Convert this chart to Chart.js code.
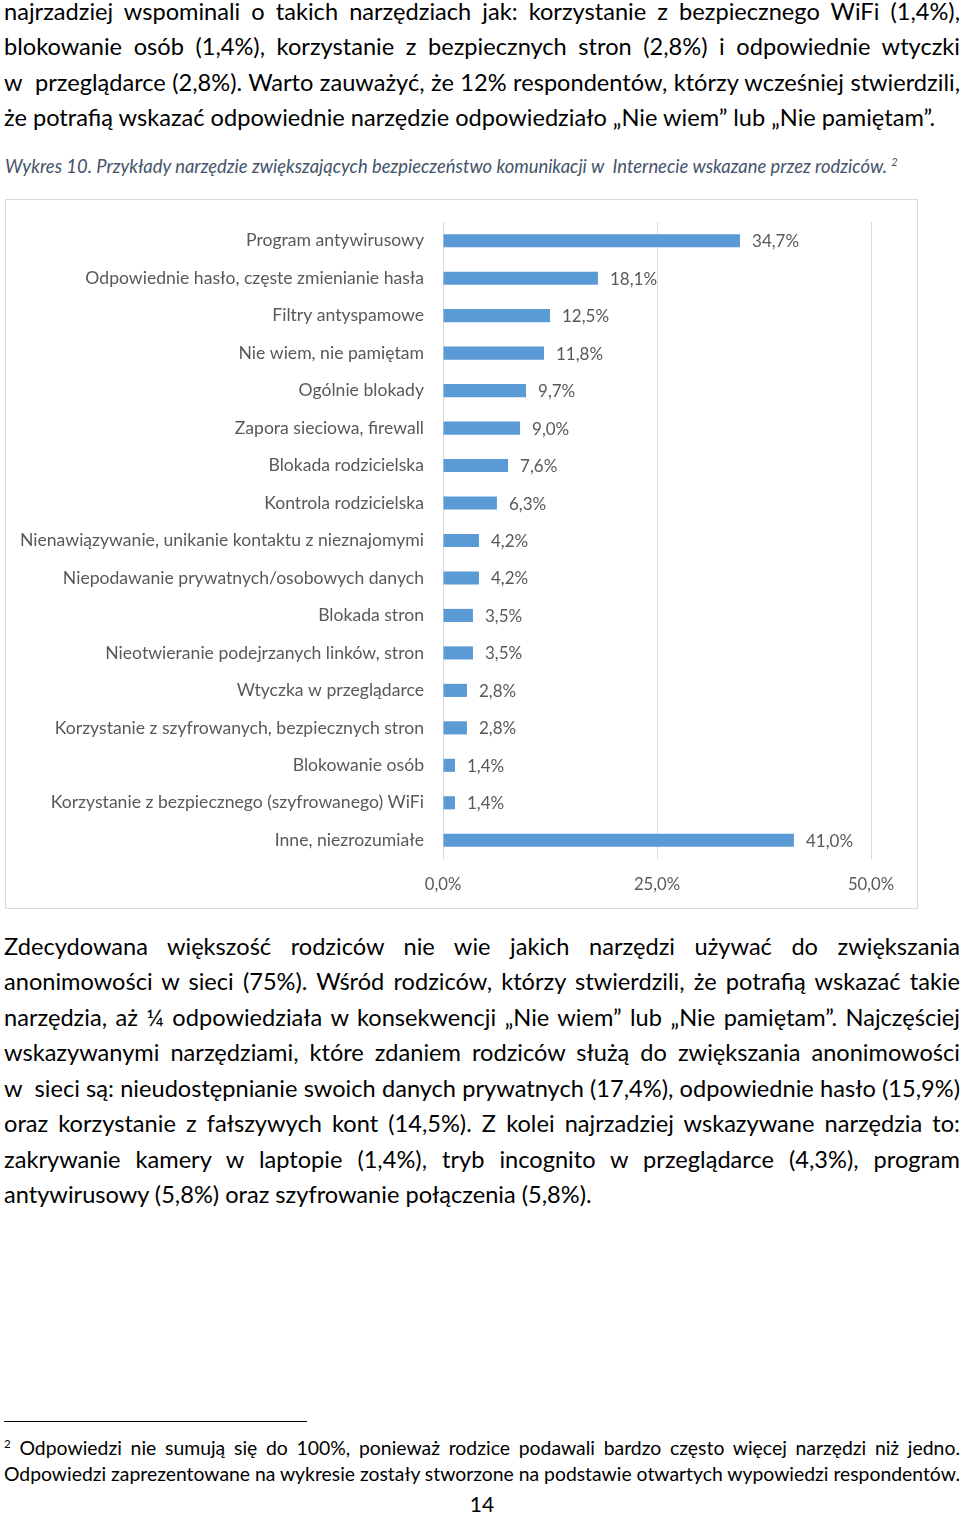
<!DOCTYPE html>
<html lang="pl">
<head>
<meta charset="utf-8">
<script src="https://cdn.jsdelivr.net/npm/chart.js@4/dist/chart.umd.min.js"></script>
<style>
  html, body { margin:0; padding:0; background:#fff; }
  body { width:960px; height:1514px; position:relative; overflow:hidden; font-family: Lato, "Open Sans", sans-serif; color:#000; }
  .ln { position:absolute; left:4px; width:956px; white-space:nowrap; font-size:23.6px; line-height:30px; }
  .ln span { display:inline-block; transform-origin:left center; }
  .fn span { display:inline-block; transform-origin:left center; }
  .j { text-align:justify; text-align-last:justify; }
  .cap { position:absolute; left:5px; top:154px; font-size:18.4px; font-style:italic; color:#44546a; white-space:nowrap; line-height:24px; }
  .fn { position:absolute; left:4px; width:956px; white-space:nowrap; font-size:19.4px; line-height:24px; }
  #box { position:absolute; left:5px; top:199px; width:913px; height:710px; border:1px solid #d9d9d9; box-sizing:border-box; }
  #wrap { position:absolute; left:6px; top:200px; width:910px; height:706px; }
  #rule { position:absolute; left:4px; top:1421px; width:303px; height:1px; background:#000; }
  #pg { position:absolute; left:0; width:964px; text-align:center; top:1491px; font-size:21px; line-height:26px; }
  sup { font-size:0.6em; vertical-align: super; line-height:0; }
</style>
</head>
<body>
<div class="ln j" style="top:-4px">najrzadziej wspominali o takich narzędziach jak: korzystanie z bezpiecznego WiFi (1,4%),</div>
<div class="ln j" style="top:31px">blokowanie osób (1,4%), korzystanie z bezpiecznych stron (2,8%) i odpowiednie wtyczki</div>
<div class="ln j" style="top:67px">w&nbsp; przeglądarce (2,8%). Warto zauważyć, że 12% respondentów, którzy wcześniej stwierdzili,</div>
<div class="ln" style="top:102px">że potrafią wskazać odpowiednie narzędzie odpowiedziało „Nie wiem” lub „Nie pamiętam”.</div>

<div class="cap">Wykres 10. Przykłady narzędzie zwiększających bezpieczeństwo komunikacji w&nbsp; Internecie wskazane przez rodziców. <sup>2</sup></div>

<div id="box"></div>
<div id="wrap"><canvas id="c"></canvas></div>

<div class="ln j" style="top:931px">Zdecydowana większość rodziców nie wie jakich narzędzi używać do zwiększania</div>
<div class="ln j" style="top:966px">anonimowości w sieci (75%). Wśród rodziców, którzy stwierdzili, że potrafią wskazać takie</div>
<div class="ln j" style="top:1002px">narzędzia, aż ¼ odpowiedziała w konsekwencji „Nie wiem” lub „Nie pamiętam”. Najczęściej</div>
<div class="ln j" style="top:1037px">wskazywanymi narzędziami, które zdaniem rodziców służą do zwiększania anonimowości</div>
<div class="ln j" style="top:1073px">w&nbsp; sieci są: nieudostępnianie swoich danych prywatnych (17,4%), odpowiednie hasło (15,9%)</div>
<div class="ln j" style="top:1108px">oraz korzystanie z fałszywych kont (14,5%). Z kolei najrzadziej wskazywane narzędzia to:</div>
<div class="ln j" style="top:1144px">zakrywanie kamery w laptopie (1,4%), tryb incognito w przeglądarce (4,3%), program</div>
<div class="ln" style="top:1179px">antywirusowy (5,8%) oraz szyfrowanie połączenia (5,8%).</div>

<div id="rule"></div>
<div class="fn j" style="top:1436px"><sup>2</sup> Odpowiedzi nie sumują się do 100%, ponieważ rodzice podawali bardzo często więcej narzędzi niż jedno.</div>
<div class="fn j" style="top:1462px">Odpowiedzi zaprezentowane na wykresie zostały stworzone na podstawie otwartych wypowiedzi respondentów.</div>
<div id="pg">14</div>

<script>
// ---- data ----
const categories = [
  "Program antywirusowy",
  "Odpowiednie hasło, częste zmienianie hasła",
  "Filtry antyspamowe",
  "Nie wiem, nie pamiętam",
  "Ogólnie blokady",
  "Zapora sieciowa, firewall",
  "Blokada rodzicielska",
  "Kontrola rodzicielska",
  "Nienawiązywanie, unikanie kontaktu z nieznajomymi",
  "Niepodawanie prywatnych/osobowych danych",
  "Blokada stron",
  "Nieotwieranie podejrzanych linków, stron",
  "Wtyczka w przeglądarce",
  "Korzystanie z szyfrowanych, bezpiecznych stron",
  "Blokowanie osób",
  "Korzystanie z bezpiecznego (szyfrowanego) WiFi",
  "Inne, niezrozumiałe"
];
const values = [34.7, 18.1, 12.5, 11.8, 9.7, 9.0, 7.6, 6.3, 4.2, 4.2, 3.5, 3.5, 2.8, 2.8, 1.4, 1.4, 41.0];
const xTicks = [0, 25, 50];

const fmt = v => v.toFixed(1).replace('.', ',') + '%';

// fit text lines that overflow
document.querySelectorAll('.ln, .fn').forEach(el => {
  const w = el.clientWidth;
  const probe = document.createElement('span');
  probe.style.whiteSpace = 'nowrap';
  probe.innerHTML = el.innerHTML;
  el.innerHTML = '';
  el.appendChild(probe);
  const pw = probe.getBoundingClientRect().width;
  if (pw > w) {
    probe.style.transform = 'scaleX(' + (w / pw) + ')';
  } else {
    el.innerHTML = probe.innerHTML;
  }
});

const labelPlugin = {
  id: 'valueLabels',
  afterDatasetsDraw(chart) {
    const ctx = chart.ctx;
    const meta = chart.getDatasetMeta(0);
    ctx.save();
    ctx.font = '17px Lato, sans-serif';
    ctx.fillStyle = '#595959';
    ctx.textAlign = 'left';
    ctx.textBaseline = 'middle';
    meta.data.forEach((bar, i) => {
      ctx.fillText(fmt(values[i]), bar.x + 12, bar.y + 1);
    });
    ctx.restore();
  }
};

new Chart(document.getElementById('c'), {
  type: 'bar',
  data: {
    labels: categories,
    datasets: [{
      data: values,
      backgroundColor: '#5b9bd5',
      borderWidth: 0,
      categoryPercentage: 1,
      barPercentage: 0.35
    }]
  },
  options: {
    indexAxis: 'y',
    responsive: true,
    maintainAspectRatio: false,
    animation: false,
    layout: { padding: { top: 22, right: 45, bottom: 0, left: 0 } },
    plugins: { legend: { display: false }, tooltip: { enabled: false } },
    scales: {
      x: {
        min: 0, max: 50,
        afterBuildTicks(scale) { scale.ticks = xTicks.map(v => ({ value: v })); },
        afterFit(scale) { scale.height = 47; scale.paddingLeft = 0; scale.paddingRight = 0; },
        grid: { color: '#d9d9d9', drawTicks: false, lineWidth: 1 },
        border: { display: false },
        ticks: {
          padding: 16,
          color: '#595959',
          font: { family: 'Lato', size: 16.7 },
          callback: v => fmt(v)
        }
      },
      y: {
        afterFit(scale) { scale.width = 437; scale.paddingTop = 0; scale.paddingBottom = 0; },
        grid: { display: false, drawTicks: false },
        border: { display: false },
        ticks: {
          padding: 19,
          color: '#595959',
          font: { family: 'Lato', size: 17.6 },
          autoSkip: false
        }
      }
    }
  },
  plugins: [labelPlugin]
});
</script>
</body>
</html>
